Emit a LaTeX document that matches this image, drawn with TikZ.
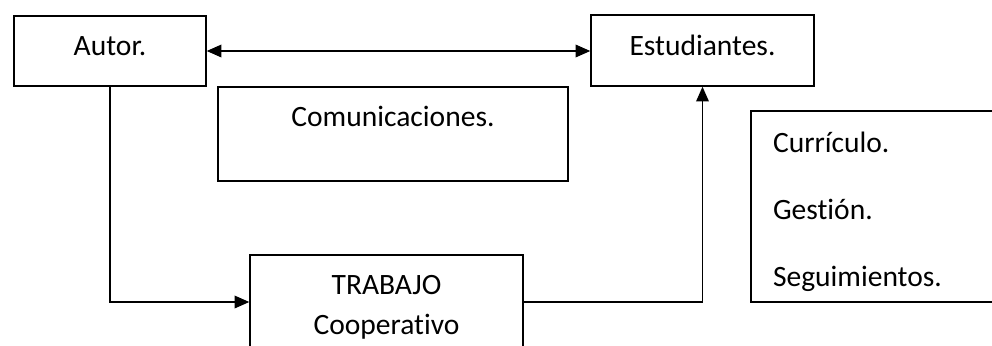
\documentclass[tikz,border=0pt]{standalone}
\usepackage{fontspec}
\setmainfont{Carlito}[Ligatures=NoCommon]
\usetikzlibrary{arrows.meta}

\def\u{0.025cm}

\begin{document}
\begin{tikzpicture}[x=\u,y=-\u,line width=1pt,>={Triangle[length=10.5pt,width=9pt]},
    font=\fontsize{21}{29}\selectfont,
    caja/.style={draw,inner sep=0pt},
    texto/.style={anchor=north,inner sep=0pt,align=center,yshift=-20*\u}]
    \useasboundingbox (0,0) rectangle (992,345);
    \clip (0,0) rectangle (992,345);

    \node[caja,minimum width=192*\u,minimum height=70*\u,
      label={[texto,yshift=-1*\u]north:Autor.}] (autor) at (110,51) {};
    \node[caja,minimum width=223*\u,minimum height=71*\u,
      label={[texto]north:Estudiantes.}] (estud) at (702.5,50.5) {};
    \node[caja,minimum width=350*\u,minimum height=94*\u,
      label={[texto,yshift=1*\u]north:Comunicaciones.}] (comun) at (393,134) {};
    \node[caja,minimum width=273*\u,minimum height=94*\u,
      label={[texto]north:TRABAJO\\Cooperativo}] (trabajo) at (386.5,302) {};
    \node[caja,minimum width=300*\u,minimum height=191*\u,
      label={[texto,anchor=north west,align=left,xshift=22*\u,yshift=-1*\u,
        font=\fontsize{21}{47.8}\selectfont]north west:Currículo.\\Gestión.\\Seguimientos.}] (areas) at (901,206.5) {};

    % conexiones
    \draw[<->] (autor.east) -- (autor.east -| estud.west);
    \draw[->] (autor.south) |- (trabajo.west);
    \draw[->] (trabajo.east) -| (estud.south);
\end{tikzpicture}
\end{document}
